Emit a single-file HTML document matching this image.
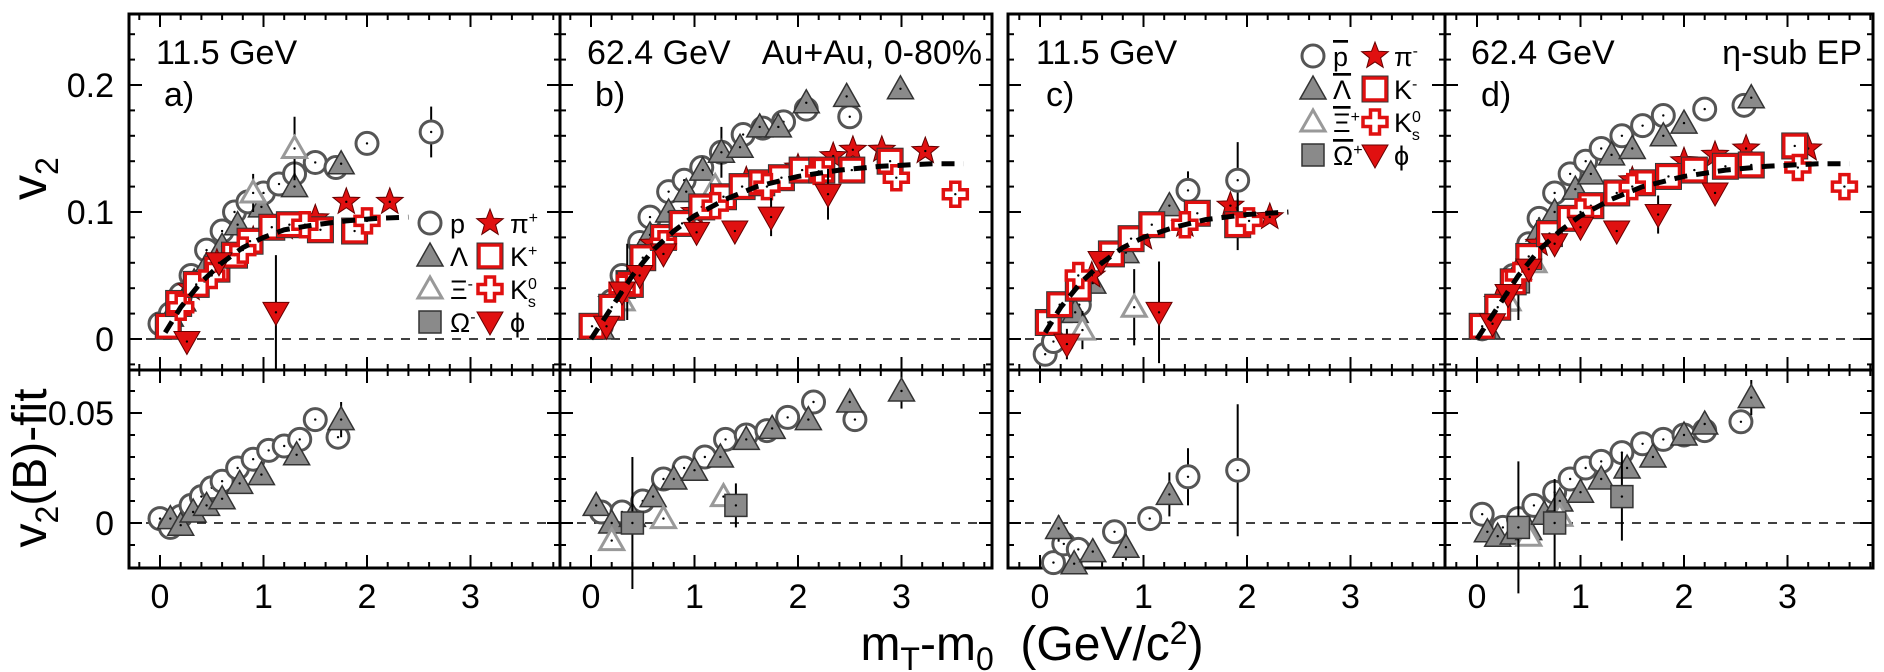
<!DOCTYPE html>
<html><head><meta charset="utf-8"><style>
html,body{margin:0;padding:0;background:#fff;}
svg{display:block;font-family:"Liberation Sans",Arial,sans-serif;}
</style></head><body>
<svg id="chart" width="1884" height="672" viewBox="0 0 1884 672" xmlns="http://www.w3.org/2000/svg">
<g id="frames"></g><g id="marks"></g><g id="labels"></g>
</svg>
<script>
// ---------- data (x = mT-m0, y = v2) ----------
const xTicks = [0,1,2,3];
const xTickLabels = ["0","1","2","3"];
const yTicksTop = [0,0.1,0.2];
const yTickLabelsTop = ["0","0.1","0.2"];
const yTicksBot = [0,0.05];
const yTickLabelsBot = ["0","0.05"];

// panel a (11.5 GeV particles)
const aP = [[0,0.012],[0.1,0.02],[0.2,0.035],[0.3,0.05],[0.45,0.07],[0.6,0.085],[0.72,0.1],[0.85,0.108],[1.0,0.115],[1.15,0.122],[1.3,0.13],[1.5,0.139],[1.7,0.135],[2.0,0.154],[2.62,0.163,0.02]];
const aL = [[0.1,0.018],[0.22,0.03],[0.33,0.045],[0.45,0.058],[0.6,0.073],[0.75,0.09],[0.98,0.104],[1.3,0.12],[1.75,0.138]];
const aXi = [[0.9,0.115,0.015],[1.3,0.15,0.025]];
const aOm = [];
const aPi = [[0.1,0.015],[0.3,0.04],[0.55,0.06],[0.9,0.078],[1.2,0.088],[1.5,0.095],[1.8,0.108],[2.22,0.108]];
const aK = [[0.08,0.01],[0.18,0.028],[0.35,0.043],[0.55,0.055],[0.72,0.066],[0.87,0.077],[1.08,0.088],[1.25,0.09],[1.55,0.086],[1.88,0.085]];
const aK0 = [[0.2,0.025],[0.5,0.05],[0.8,0.07],[1.4,0.09],[2.0,0.093]];
const aPhi = [[0.26,-0.002],[0.57,0.06],[1.12,0.021,0.045]];
const aFit = [[0.05,0.005],[0.2,0.025],[0.4,0.045],[0.6,0.06],[0.8,0.072],[1.0,0.08],[1.2,0.086],[1.5,0.09],[1.8,0.093],[2.1,0.095],[2.4,0.096]];
const aBP = [[0,0.002],[0.1,-0.002],[0.2,0.003],[0.3,0.008],[0.4,0.012],[0.5,0.016],[0.6,0.019],[0.75,0.025],[0.9,0.029],[1.05,0.033],[1.2,0.035],[1.35,0.038],[1.5,0.047],[1.72,0.039]];
const aBL = [[0.1,0.002],[0.2,-0.001],[0.32,0.005],[0.45,0.008],[0.6,0.011],[0.77,0.018],[0.98,0.022],[1.32,0.031],[1.75,0.047,0.008]];
const aBXi = [];
const aBOm = [];

// panel b (62.4 GeV particles)
const bP = [[0.1,0.01],[0.2,0.03],[0.3,0.05],[0.47,0.076],[0.57,0.096],[0.75,0.116],[0.9,0.125],[1.07,0.135],[1.26,0.147],[1.47,0.161],[1.66,0.166],[1.86,0.171],[2.08,0.181],[2.5,0.175]];
const bL = [[0.1,0.008],[0.3,0.04],[0.57,0.082],[0.75,0.1],[0.92,0.116],[1.08,0.133],[1.26,0.147,0.02],[1.44,0.151],[1.63,0.167],[1.81,0.167],[2.08,0.186],[2.47,0.191],[2.99,0.197]];
const bXi = [[0.3,0.03],[1.2,0.12]];
const bOm = [[0.35,0.045,0.03]];
const bPi = [[0.2,0.03],[0.6,0.075],[1.0,0.1],[1.5,0.125],[2.0,0.135],[2.34,0.144],[2.53,0.149],[2.81,0.149],[3.23,0.148]];
const bK = [[0.01,0.01],[0.2,0.025],[0.38,0.043],[0.5,0.064],[0.7,0.08],[0.88,0.091],[1.07,0.104],[1.28,0.112],[1.46,0.12],[1.65,0.123],[1.84,0.127],[2.04,0.133],[2.23,0.133],[2.52,0.133],[2.89,0.14]];
const bK0 = [[0.3,0.04],[0.7,0.075],[1.2,0.105],[1.7,0.12],[2.2,0.132],[2.95,0.127],[3.52,0.114]];
const bPhi = [[0.15,0.01],[0.3,0.037],[0.47,0.05],[0.7,0.067],[1.02,0.084],[1.39,0.085],[1.74,0.096,0.015],[2.29,0.114,0.02]];
const bFit = [[0,0],[0.2,0.025],[0.4,0.05],[0.6,0.07],[0.8,0.085],[1.0,0.097],[1.3,0.11],[1.6,0.12],[2.0,0.128],[2.4,0.133],[2.8,0.136],[3.3,0.138],[3.6,0.138]];
const bBP = [[0.1,0.005],[0.3,0.005],[0.5,0.01],[0.7,0.02],[0.9,0.025],[1.1,0.03],[1.3,0.038],[1.5,0.04],[1.7,0.042],[1.9,0.048],[2.15,0.055],[2.55,0.047]];
const bBL = [[0.05,0.008],[0.2,0.0],[0.4,0.003],[0.6,0.012],[0.8,0.02],[1.0,0.024],[1.25,0.03],[1.5,0.038],[1.75,0.043],[2.1,0.047],[2.5,0.055],[3.0,0.06,0.008]];
const bBXi = [[0.2,-0.008],[0.7,0.002],[1.28,0.012]];
const bBOm = [[0.4,0.0,0.03],[1.4,0.008,0.01]];

// panel c (11.5 GeV anti-particles)
const cP = [[0.05,-0.012],[0.13,-0.002],[0.38,0.027],[1.43,0.117,0.015],[1.91,0.125,0.03]];
const cL = [[0.18,0.021],[0.34,0.021],[0.51,0.044],[0.83,0.068],[1.25,0.105]];
const cXi = [[0.41,0.007,0.015],[0.91,0.025,0.03]];
const cOm = [];
const cPi = [[0.1,0.015],[0.5,0.05],[1.0,0.08],[1.4,0.09],[1.84,0.105],[2.22,0.096]];
const cK = [[0.08,0.013],[0.19,0.027],[0.37,0.04],[0.69,0.067],[0.88,0.079],[1.08,0.09],[1.52,0.099],[1.91,0.09,0.02]];
const cK0 = [[0.37,0.05],[1.4,0.09],[2.02,0.093]];
const cPhi = [[0.26,-0.004,0.012],[0.59,0.061],[1.15,0.021,0.04]];
const cFit = [[0.05,0.005],[0.2,0.025],[0.4,0.045],[0.6,0.06],[0.8,0.072],[1.0,0.08],[1.3,0.088],[1.6,0.094],[2.0,0.098],[2.4,0.1]];
const cBP = [[0.13,-0.018],[0.23,-0.0095],[0.37,-0.012],[0.72,-0.004],[1.06,0.002,0.004],[1.43,0.021,0.013],[1.91,0.024,0.03]];
const cBL = [[0.18,-0.0025,0.006],[0.33,-0.0185],[0.51,-0.013],[0.83,-0.011,0.006],[1.25,0.013,0.01]];
const cBXi = [];
const cBOm = [];

// panel d (62.4 GeV anti-particles, eta-sub EP)
const dP = [[0.05,0.008],[0.2,0.025],[0.35,0.05],[0.5,0.075],[0.6,0.095],[0.75,0.115],[0.9,0.13],[1.05,0.14],[1.2,0.15],[1.4,0.16],[1.6,0.168],[1.8,0.176],[2.2,0.181],[2.58,0.184]];
const dL = [[0.1,0.008],[0.25,0.03],[0.4,0.055],[0.6,0.085],[0.75,0.1],[0.95,0.118],[1.1,0.13],[1.3,0.145],[1.5,0.15],[1.8,0.16],[2.0,0.17],[2.65,0.19]];
const dXi = [[0.3,0.03],[0.55,0.06]];
const dOm = [[0.4,0.045,0.03]];
const dPi = [[0.2,0.03],[0.6,0.075],[1.0,0.1],[1.5,0.125],[2.0,0.14],[2.3,0.145],[2.6,0.15],[3.2,0.15]];
const dK = [[0.05,0.01],[0.2,0.025],[0.35,0.045],[0.5,0.065],[0.7,0.083],[0.9,0.095],[1.1,0.105],[1.35,0.115],[1.6,0.123],[1.85,0.128],[2.1,0.133],[2.4,0.136],[2.65,0.137],[3.07,0.152]];
const dK0 = [[0.4,0.05],[1.0,0.1],[1.5,0.12],[3.1,0.135],[3.55,0.12]];
const dPhi = [[0.15,0.012],[0.3,0.035],[0.5,0.055],[0.75,0.075],[1.0,0.088],[1.35,0.085],[1.75,0.098,0.015],[2.3,0.115]];
const dFit = [[0,0],[0.2,0.025],[0.4,0.05],[0.6,0.07],[0.8,0.085],[1.0,0.097],[1.3,0.11],[1.6,0.12],[2.0,0.128],[2.4,0.133],[2.8,0.136],[3.3,0.138],[3.6,0.138]];
const dBP = [[0.05,0.004],[0.25,-0.002],[0.4,0.002],[0.55,0.008],[0.75,0.014],[0.9,0.02],[1.05,0.025],[1.2,0.028],[1.4,0.032],[1.6,0.036],[1.8,0.038],[2.0,0.04],[2.2,0.042],[2.55,0.046]];
const dBL = [[0.1,-0.004],[0.2,-0.006],[0.35,-0.005],[0.5,-0.003],[0.65,0.004],[0.8,0.01],[1.0,0.014],[1.2,0.02],[1.45,0.025],[1.7,0.03],[2.0,0.04],[2.2,0.045],[2.65,0.057,0.008]];
const dBXi = [[0.5,-0.006],[0.8,0.003]];
const dBOm = [[0.4,-0.002,0.03],[0.75,0.0,0.02],[1.4,0.012,0.02]];

// ---------- layout ----------
const NS = "http://www.w3.org/2000/svg";
const TOP = 14, MID = 370, BOT = 568;
const XS = 103.5, YS_TOP = 1270, Y0_TOP = 339, YS_BOT = 2200, Y0_BOT = 523;
const panels = [
  {id:"a", l:129, r:560, x0:160, up:[aP,aL,aXi,aOm,aPi,aK,aK0,aPhi,aFit], lo:[aBP,aBL,aBXi,aBOm]},
  {id:"b", l:560, r:992, x0:591, up:[bP,bL,bXi,bOm,bPi,bK,bK0,bPhi,bFit], lo:[bBP,bBL,bBXi,bBOm]},
  {id:"c", l:1008, r:1445, x0:1040, up:[cP,cL,cXi,cOm,cPi,cK,cK0,cPhi,cFit], lo:[cBP,cBL,cBXi,cBOm]},
  {id:"d", l:1445, r:1873, x0:1477, up:[dP,dL,dXi,dOm,dPi,dK,dK0,dPhi,dFit], lo:[dBP,dBL,dBXi,dBOm]}
];
const gF = document.getElementById("frames"), gM = document.getElementById("marks"), gL = document.getElementById("labels");
function mk(tag, attrs, parent){ const e=document.createElementNS(NS,tag); for(const k in attrs) e.setAttribute(k,attrs[k]); parent.appendChild(e); return e; }
function txt(s, x, y, size, parent, anchor){ const t=mk("text",{x:x,y:y,"font-size":size,"text-anchor":anchor||"start",fill:"#000"},parent); t.textContent=s; return t; }

function star(cx,cy,R){ let p=""; for(let i=0;i<10;i++){ const r=i%2?R*0.42:R; const a=-Math.PI/2+i*Math.PI/5; p+=(i?"L":"M")+(cx+r*Math.cos(a)).toFixed(1)+","+(cy+r*Math.sin(a)).toFixed(1);} return p+"Z"; }
function drawMarker(kind, cx, cy, parent){
  let e;
  if(kind==="circle"){ e=mk("circle",{cx:cx,cy:cy,r:11,fill:"#fff",stroke:"#555","stroke-width":3},parent); }
  else if(kind==="tri"){ e=mk("path",{d:`M${cx},${cy-13}L${cx+13},${cy+10}L${cx-13},${cy+10}Z`,fill:"#8a8a8a",stroke:"#333","stroke-width":1.5},parent); }
  else if(kind==="otri"){ e=mk("path",{d:`M${cx},${cy-12}L${cx+12},${cy+9}L${cx-12},${cy+9}Z`,fill:"#fff",stroke:"#999","stroke-width":3},parent); }
  else if(kind==="osq"){ e=mk("rect",{x:cx-11,y:cy-11,width:22,height:22,fill:"#8a8a8a",stroke:"#333","stroke-width":1.5},parent); }
  else if(kind==="star"){ e=mk("path",{d:star(cx,cy,14),fill:"#e01010",stroke:"#600","stroke-width":1},parent); }
  else if(kind==="sq"){ e=mk("rect",{x:cx-11,y:cy-11,width:22,height:22,fill:"#fff",stroke:"#e01010","stroke-width":3.5},parent); mk("rect",{x:cx-13,y:cy-13,width:26,height:26,fill:"none",stroke:"#333","stroke-width":1},parent); }
  else if(kind==="cross"){ const a=4.5,b=12; e=mk("path",{d:`M${cx-a},${cy-b}H${cx+a}V${cy-a}H${cx+b}V${cy+a}H${cx+a}V${cy+b}H${cx-a}V${cy+a}H${cx-b}V${cy-a}H${cx-a}Z`,fill:"#fff",stroke:"#e01010","stroke-width":3.5},parent); }
  else if(kind==="dtri"){ e=mk("path",{d:`M${cx-13},${cy-10}L${cx+13},${cy-10}L${cx},${cy+13}Z`,fill:"#e01010",stroke:"#600","stroke-width":1},parent); }
  return e;
}
const kinds = ["circle","tri","otri","osq","star","sq","cross","dtri"];
const kindNames = ["proton","lambda","xi","omega","pion","kaon","k0s","phi"];

panels.forEach(p=>{
  const X = v => p.x0 + v*XS;
  const YU = v => Y0_TOP - v*YS_TOP;
  const YL = v => Y0_BOT - v*YS_BOT;
  const fr = mk("rect",{x:p.l,y:TOP,width:p.r-p.l,height:BOT-TOP,fill:"none",stroke:"#000","stroke-width":3},gF);
  
  
  mk("line",{x1:p.l,x2:p.r,y1:MID,y2:MID,stroke:"#000","stroke-width":3},gF);
  [Y0_TOP,Y0_BOT].forEach((yy,i)=>{ const z=mk("line",{x1:p.l,x2:p.r,y1:yy,y2:yy,stroke:"#000","stroke-width":1.5,"stroke-dasharray":"9,8"},gF);
    
     });
  for(let k=-1;k<=19;k++){ const v=k*0.2; const xx=X(v); if(xx<p.l+2||xx>p.r-2) continue; const major=Math.abs(v-Math.round(v))<1e-6; const len=major?13:6;
    [TOP,MID].forEach(y=>mk("line",{x1:xx,x2:xx,y1:y,y2:y+len,stroke:"#000","stroke-width":2},gF));
    [MID,BOT].forEach(y=>mk("line",{x1:xx,x2:xx,y1:y,y2:y-len,stroke:"#000","stroke-width":2},gF)); }
  for(let k=-1;k<=12;k++){ const v=k*0.02; const yy=YU(v); if(yy<TOP+2||yy>MID-2) continue; const major=(k%5===0); const len=major?13:6;
    mk("line",{x1:p.l,x2:p.l+len,y1:yy,y2:yy,stroke:"#000","stroke-width":2},gF);
    mk("line",{x1:p.r,x2:p.r-len,y1:yy,y2:yy,stroke:"#000","stroke-width":2},gF); }
  for(let k=-2;k<=6;k++){ const v=k*0.01; const yy=YL(v); if(yy<MID+2||yy>BOT-2) continue; const major=(k%5===0); const len=major?13:6;
    mk("line",{x1:p.l,x2:p.l+len,y1:yy,y2:yy,stroke:"#000","stroke-width":2},gF);
    mk("line",{x1:p.r,x2:p.r-len,y1:yy,y2:yy,stroke:"#000","stroke-width":2},gF); }
  xTicks.forEach((v,i)=>{ const t=txt(xTickLabels[i], X(v), 608, 34, gL, "middle");
    
     });
  const g = mk("g",{},gM);
  
  
  const draw = (arr, kind, Y, nm) => arr.forEach(d=>{
    const cx=X(d[0]), cy=Y(d[1]);
    if(d.length>2){ const eb=mk("line",{x1:cx,x2:cx,y1:Y(d[1]+d[2]),y2:Y(d[1]-d[2]),stroke:"#000","stroke-width":2},g);
      
       }
    const m=drawMarker(kind,cx,cy,g);
    
    
    mk("circle",{cx:cx,cy:cy,r:1.2,fill:"#000"},g);
  });
  for(let i=0;i<8;i++) draw(p.up[i], kinds[i], YU, kindNames[i]);
  const fit=p.up[8];
  const fl=mk("path",{d:fit.map((d,i)=>(i?"L":"M")+X(d[0]).toFixed(1)+","+YU(d[1]).toFixed(1)).join(""),fill:"none",stroke:"#000","stroke-width":5,"stroke-dasharray":"13,9"},g);
  
  
  for(let i=0;i<4;i++) draw(p.lo[i], kinds[i], YL, 'residual-'+kindNames[i]);
});

yTicksTop.forEach((v,i)=>{ const t=txt(yTickLabelsTop[i],114,Y0_TOP-v*YS_TOP+12,34,gL,"end");
  
   });
yTicksBot.forEach((v,i)=>{ const t=txt(yTickLabelsBot[i],114,Y0_BOT-v*YS_BOT+12,34,gL,"end");
  
   });

function legend(x1, x2, y0, dy, labelsL, labelsR, kindsL, kindsR, lx1, lx2, nm){
  for(let i=0;i<4;i++){ const y=y0+i*dy;
    const m1=drawMarker(kindsL[i], x1, y, gL);
    
    
    const m2=drawMarker(kindsR[i], x2, y, gL);
    
    
    const t1=mk("text",{x:lx1,y:y+10,"font-size":27,fill:"#000"},gL); t1.innerHTML=labelsL[i];
    
    
    const t2=mk("text",{x:lx2,y:y+10,"font-size":27,fill:"#000"},gL); t2.innerHTML=labelsR[i];
    
    
  }
}
legend(430, 490, 223, 33,
  ["p","Λ",'Ξ<tspan dy="-10" font-size="16">-</tspan>','Ω<tspan dy="-10" font-size="16">-</tspan>'],
  ['π<tspan dy="-10" font-size="16">+</tspan>','K<tspan dy="-10" font-size="16">+</tspan>','K<tspan dy="-10" font-size="16">0</tspan><tspan dx="-9" dy="18" font-size="16">s</tspan>',"ϕ"],
  ["circle","tri","otri","osq"],["star","sq","cross","dtri"], 450, 510, "legend-a");
legend(1313, 1375, 56, 33,
  ['<tspan text-decoration="overline">p</tspan>','<tspan text-decoration="overline">Λ</tspan>','<tspan text-decoration="overline">Ξ</tspan><tspan dy="-10" font-size="16">+</tspan>','<tspan text-decoration="overline">Ω</tspan><tspan dy="-10" font-size="16">+</tspan>'],
  ['π<tspan dy="-10" font-size="16">-</tspan>','K<tspan dy="-10" font-size="16">-</tspan>','K<tspan dy="-10" font-size="16">0</tspan><tspan dx="-9" dy="18" font-size="16">s</tspan>',"ϕ"],
  ["circle","tri","otri","osq"],["star","sq","cross","dtri"], 1333, 1394, "legend-c");
</script>
<script>
(function(){
const NS="http://www.w3.org/2000/svg"; const svg=document.getElementById("chart");
function T(s,x,y,size,name,anchor,extra){ const t=document.createElementNS(NS,"text"); t.setAttribute("x",x); t.setAttribute("y",y); t.setAttribute("font-size",size); if(anchor) t.setAttribute("text-anchor",anchor); if(extra) for(const k in extra) t.setAttribute(k,extra[k]); t.innerHTML=s;
  
  
  svg.appendChild(t); }
T("11.5 GeV",156,64,34,"energy-label-a");
T("a)",164,106,34,"panel-label-a");
T("62.4 GeV",587,64,34,"energy-label-b");
T("Au+Au,  0-80%",982,64,34,"system-label","end",{"xml:space":"preserve"});
T("b)",595,106,34,"panel-label-b");
T("11.5 GeV",1036,64,34,"energy-label-c");
T("c)",1046,106,34,"panel-label-c");
T("62.4 GeV",1471,64,34,"energy-label-d");
T("d)",1481,106,34,"panel-label-d");
T("η-sub EP",1862,64,34,"event-plane-label","end");
T('v<tspan dy="12" font-size="32">2</tspan>',0,0,50,"y-axis-title-top",null,{transform:"translate(46,200) rotate(-90)"});
T('v<tspan dy="12" font-size="32">2</tspan><tspan dy="-12">(B)-fit</tspan>',0,0,48,"y-axis-title-bottom","middle",{transform:"translate(46,468) rotate(-90)"});
T('m<tspan dy="10" font-size="32">T</tspan><tspan dy="-10">-m</tspan><tspan dy="10" font-size="32">0</tspan><tspan dy="-10" xml:space="preserve">  (GeV/c</tspan><tspan dy="-16" font-size="32">2</tspan><tspan dy="16">)</tspan>',1032,660,48,"x-axis-title","middle");
})();
</script>
</body></html>
